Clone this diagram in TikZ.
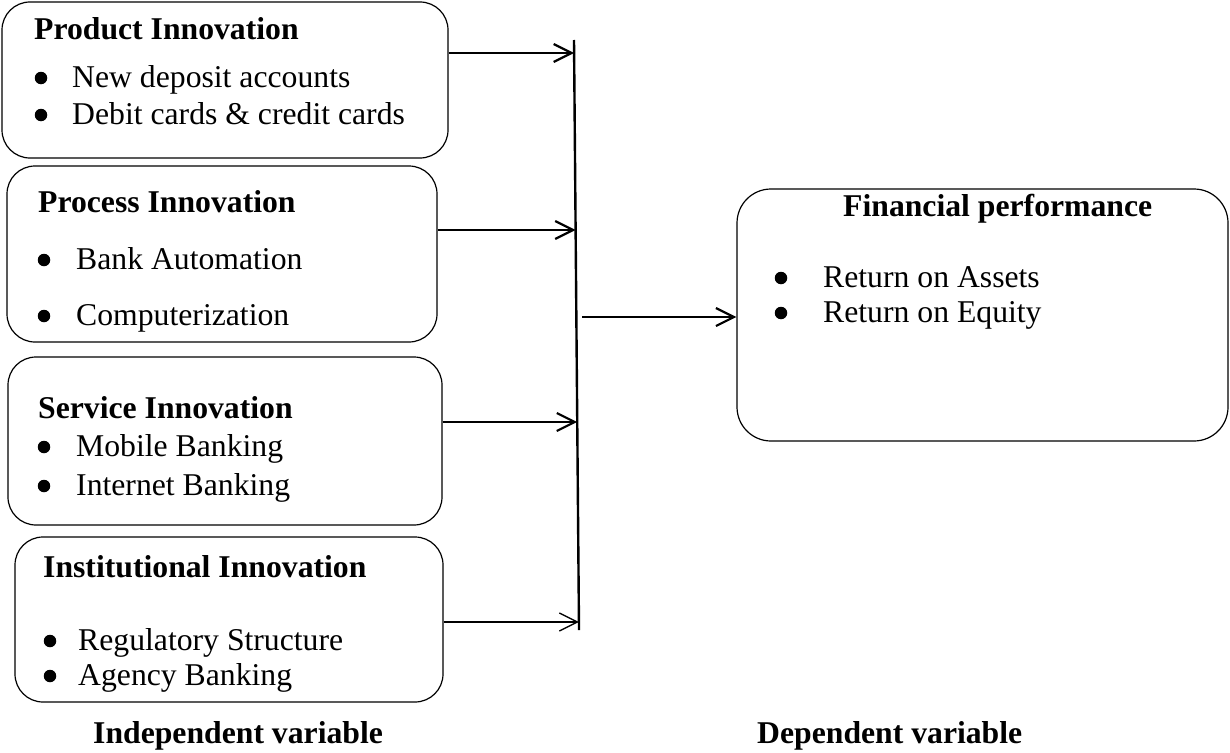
\documentclass[tikz,border=0pt]{standalone}
\usepackage{fontspec}
\setmainfont{Liberation Serif}
\usetikzlibrary{arrows.meta}
\begin{document}
\begin{tikzpicture}[x=1pt,y=-1pt,
  box/.style={draw, line width=1.2pt, rounded corners=28pt, inner sep=0pt},
  txt/.style={anchor=base west, inner sep=0pt, font=\fontsize{31.7}{38}\selectfont},
  ttl/.style={anchor=base west, inner sep=0pt, font=\fontsize{31.7}{38}\selectfont\bfseries},
  bul/.style={circle, fill=black, inner sep=0pt, minimum size=12.5pt},
  conn/.style={line width=2.2pt, -{Straight Barb[length=18pt,width=18pt]}},
  thinconn/.style={line width=1.4pt, -{Straight Barb[length=18pt,width=18pt]}},
  spine/.style={line width=2.4pt},
]
\useasboundingbox (0,0) rectangle (1230,752);

% boxes
\node[box, minimum width=446pt, minimum height=156pt] (p1) at (225,80) {};
\node[box, minimum width=430pt, minimum height=176pt] (p2) at (222,254) {};
\node[box, minimum width=434pt, minimum height=168pt] (p3) at (225,441) {};
\node[box, minimum width=428pt, minimum height=165pt] (p4) at (229,619.5) {};
\node[box, rounded corners=34pt, minimum width=491pt, minimum height=252pt] (fp) at (982.5,315) {};

% box 1
\node[ttl] (t1) at (34,40) {Product Innovation};
\node[bul] (b1a) at (41,78) {};
\node[txt] (t1a) at (72,87) {New deposit accounts};
\node[bul] (b1b) at (41,115) {};
\node[txt] (t1b) at (72,124) {Debit cards \& credit cards};
% box 2
\node[ttl] (t2) at (38,212) {Process Innovation};
\node[bul] (b2a) at (44,260) {};
\node[txt] (t2a) at (76,269) {Bank Automation};
\node[bul] (b2b) at (44,316) {};
\node[txt] (t2b) at (76,325) {Computerization};
% box 3
\node[ttl] (t3) at (38,418) {Service Innovation};
\node[bul] (b3a) at (44,447) {};
\node[txt] (t3a) at (76,456) {Mobile Banking};
\node[bul] (b3b) at (44,486) {};
\node[txt] (t3b) at (76,495) {Internet Banking};
% box 4
\node[ttl] (t4) at (43,577) {Institutional Innovation};
\node[bul] (b4a) at (50,641) {};
\node[txt] (t4a) at (78,650) {Regulatory Structure};
\node[bul] (b4b) at (50,676) {};
\node[txt] (t4b) at (78,685) {Agency Banking};
% financial performance
\node[ttl] (tf) at (843,216) {Financial performance};
\node[bul] (bfa) at (781,278) {};
\node[txt] (tfa) at (823,287) {Return on Assets};
\node[bul] (bfb) at (781,313) {};
\node[txt] (tfb) at (823,322) {Return on Equity};

% captions
\node[ttl] (ind) at (93,743) {Independent variable};
\node[ttl] (dep) at (757,743) {Dependent variable};

% spine
\coordinate (vt) at (574,40);
\coordinate (vb) at (579,630);
\draw[spine] (vt) -- (vb);
\coordinate (v1) at (574.1,53);
\coordinate (v2) at (575.6,230);
\coordinate (v3) at (577.2,422);
\coordinate (v4) at (578.9,622);
\coordinate (v5) at (582,317);

\draw[conn] (p1.east |- v1) -- (v1);
\draw[conn] (p2.east |- v2) -- (v2);
\draw[conn] (p3.east |- v3) -- (v3);
\draw[thinconn] (p4.east |- v4) -- (v4);
\draw[conn] (v5) -- (fp.west |- v5);
\end{tikzpicture}
\end{document}
